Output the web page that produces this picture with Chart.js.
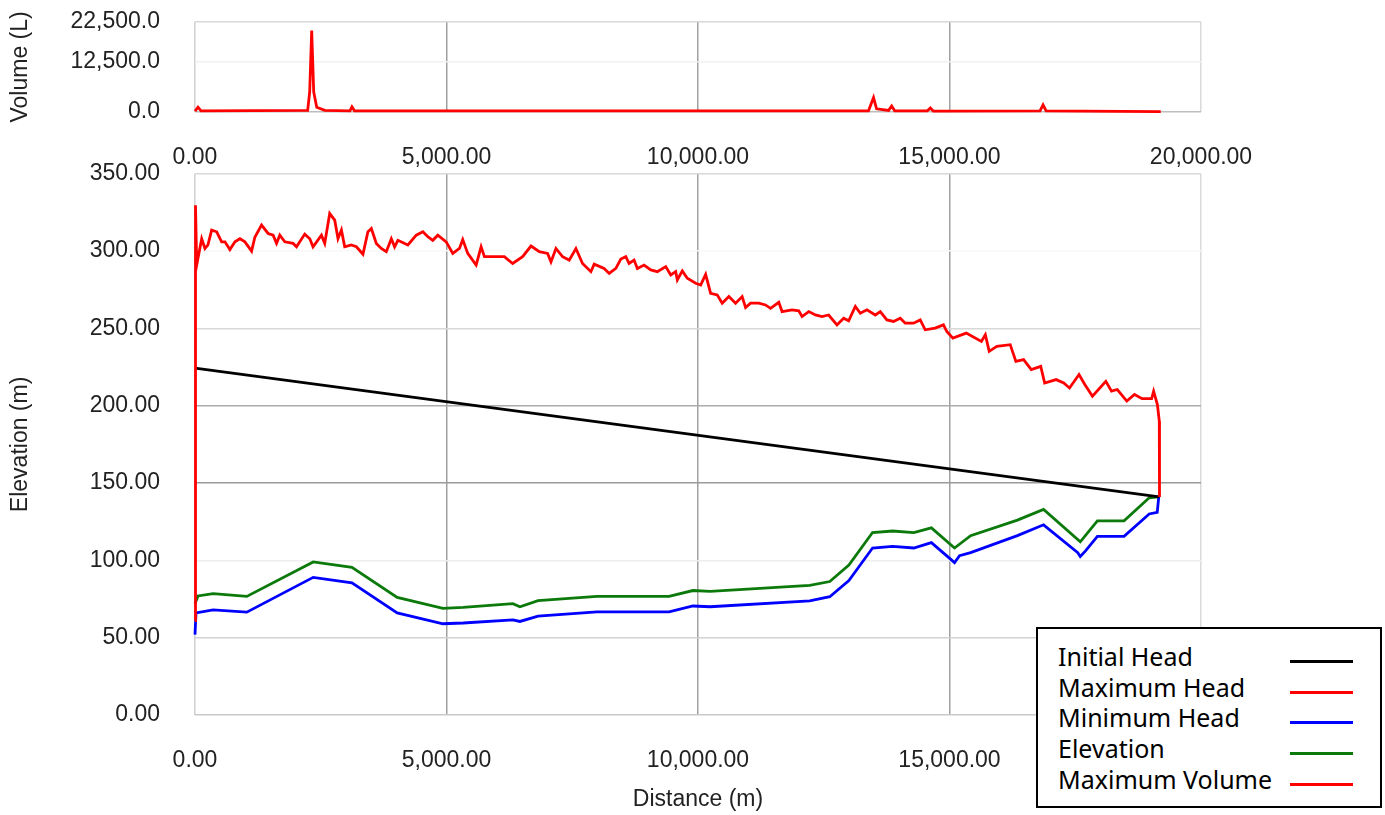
<!DOCTYPE html>
<html>
<head>
<meta charset="utf-8">
<script src="https://cdn.jsdelivr.net/npm/chart.js@4.4.1/dist/chart.umd.min.js"></script>
<style>
  html, body { margin: 0; padding: 0; background: #fff; }
  body { width: 1385px; height: 815px; position: relative; overflow: hidden; }
  #volWrap { position: absolute; left: 0; top: -27px; }
  #profWrap { position: absolute; left: 0; top: 125px; }
  #legend {
    position: absolute; left: 1036px; top: 627px; width: 346px; height: 181px;
    box-sizing: border-box; border: 2px solid #000; background: #fff;
    padding-top: 12px; font-family: "Noto Sans", sans-serif; font-size: 25px; color: #000;
  }
  .row { position: relative; height: 30.7px; line-height: 30.7px; padding-left: 20px; }
  .row span.swatch { position: absolute; left: 252px; top: 19px; width: 63px; height: 3px; }
</style>
</head>
<body>
<div id="volWrap"><canvas id="volumeChart" width="1385" height="207"></canvas></div>
<div id="profWrap"><canvas id="profileChart" width="1385" height="690"></canvas></div>
<div id="legend"></div>

<script>
// distances (m) and values
const initialHeadDist = [0, 19170];
const initialHeadVal = [224.3, 141];

const maxHeadDist = [0,10,34,133,198,258,331,431,530,595,
  694,794,893,992,1125,1190,1323,1454,1553,1621,
  1686,1786,1950,2018,2182,2282,2347,2514,2579,2678,
  2778,2843,2911,2976,3109,3208,3339,3438,3506,3605,
  3704,3803,3903,3968,4034,4232,4399,4530,4629,4728,
  4827,4994,5125,5258,5323,5422,5589,5688,5754,5952,
  6150,6315,6513,6680,6845,7010,7077,7176,7307,7440,
  7573,7704,7871,7936,8134,8234,8367,8466,8565,8630,
  8729,8795,8928,9061,9192,9359,9458,9557,9589,9688,
  9787,9954,10053,10152,10251,10382,10481,10614,10747,10878,
  10946,11045,11209,11342,11442,11606,11672,11870,12003,12069,
  12202,12335,12465,12598,12763,12896,12995,13128,13227,13358,
  13525,13624,13755,13888,14021,14120,14285,14418,14517,14715,
  14880,14946,15067,15333,15634,15713,15789,15941,16207,16320,
  16473,16626,16814,16892,17120,17271,17386,17575,17690,17842,
  18108,18221,18336,18525,18678,18828,19019,19058,19133,19171,
  19175];
const maxHeadVal = [61,329.7,291,308,301.7,304,313.6,312.5,306,306,
  301,306,308,306,300,309,316.8,311.4,310.3,305,
  310.3,306,305,302.8,311,308,302.8,310.3,305,324.3,
  320,308,313.6,302.8,304,302.8,298,312.5,314.6,305,
  301.7,299.6,308,302.8,307,304,310.3,312.5,309.3,307,
  310.3,306,298.5,301.7,307.5,298.5,291,302.8,296.4,296.4,
  296.4,292,296.4,303.3,299.6,298.5,293,301.7,296.4,294.2,
  301.7,292,286.7,291.6,288.8,285.6,288.8,294.9,296.4,292,
  294.2,288.8,291,287.8,286.7,290,284.6,286.7,281.3,287.2,
  282.4,279.2,278.1,285,272.7,271.7,266.3,270.6,266.3,270.6,
  263.5,266.3,266.3,265.2,263,266.9,260.9,262,261.4,257.7,
  260.9,258.7,257.7,258.7,252.3,256.6,254.9,264.2,259.8,262,
  258.7,260.9,255.5,254.5,256.6,253.4,253.4,255.5,249.1,250.2,
  252.3,248,243.7,247,241.6,245.9,235.2,238.4,239.5,228.7,
  229.8,223.4,225.5,214.7,216.9,214.7,211.5,220.2,213.7,206.2,
  215.8,209.4,210.5,203,207.3,204.6,204.6,209.4,200.8,190,
  141];

const elevationDist = [0,60,360,1030,2350,3120,4020,4930,5330,6320,6460,6820,7990,8850,9425,9900,10240,
  12220,12620,13000,13470,13870,14290,14640,15100,15420,16350,16870,17600,17940,18470,18970,19150];
const elevationVal = [72,77,78.5,76.7,99,95.5,76,69,69.6,72,70,74,76.7,76.7,76.7,80.5,80,
  83.8,86.3,97,118,119,118,121,108,116,126,133,112,125.6,125.6,140.5,141];

const minHeadDist = [0,20,360,1030,2350,3120,4020,4930,5330,6320,6460,6820,7990,8850,9425,9900,10240,
  12220,12620,13000,13470,13870,14290,14640,15050,15100,15200,15420,16350,16870,17550,17600,17700,
  17940,18470,18970,19130,19160];
const minHeadVal = [52,66,68,66.5,89,85.5,66,59,59.5,61.5,60.5,64,66.7,66.7,66.7,70.5,70,
  73.8,76.5,87,108,109,108,111.5,100,98.5,103,105,116,123,105,102.5,106,
  115.5,115.5,130,131,141];

const volumeDist = [0,60,120,2240,2280,2320,2360,2420,2580,3080,3120,3170,
  13390,13490,13550,13790,13850,13910,14560,14620,14680,16800,16860,16920,19200];
const volumeVal = [200,1200,300,400,5000,20300,5000,1200,400,300,1300,300,
  300,3600,800,400,1500,300,300,1000,200,300,1800,300,100];

const distanceTicks = [0, 5000, 10000, 15000, 20000];
const volumeTicks = [0, 12500, 22500];
const elevationTicks = [0, 50, 100, 150, 200, 250, 300, 350];

const legendLabels = ["Initial Head", "Maximum Head", "Minimum Head", "Elevation", "Maximum Volume"];
const legendColors = ["#000000", "#ff0000", "#0000ff", "#0b7a0b", "#ff0000"];

const pts = (xs, ys) => xs.map((x, i) => ({ x: x, y: ys[i] }));
const fmt = (v, d) => v.toLocaleString("en-US", { minimumFractionDigits: d, maximumFractionDigits: d });

const tickFont = { family: "'Liberation Sans', Arial, sans-serif", size: 23 };
const titleFont = { family: "'Liberation Sans', Arial, sans-serif", size: 23 };

const xGrid = { 0: "#cfcfcf", 5000: "#a0a0a0", 10000: "#a0a0a0", 15000: "#a0a0a0", 20000: "#dadada" };
const volGrid = { 0: "#bdbdbd", 12500: "#f0f0f0", 22500: "#d8d8d8" };
const elevGrid = { 0: "#cacaca", 50: "#d2d2d2", 100: "#eeeeee", 150: "#9a9a9a", 200: "#ababab",
  250: "#d8d8d8", 300: "#f8f8f8", 350: "#d8d8d8" };

function lineSet(label, data, color) {
  return { label, data, borderColor: color, backgroundColor: color, borderWidth: 2.8,
    showLine: true, pointRadius: 0, tension: 0, clip: false };
}

function xScale(height) {
  return {
    type: "linear", min: 0, max: 20000,
    afterBuildTicks: s => { s.ticks = distanceTicks.map(v => ({ value: v })); },
    afterFit: s => { s.height = height; },
    border: { display: false },
    grid: { drawTicks: false, lineWidth: 1.5, color: c => xGrid[c.tick.value] },
    ticks: { padding: 32, color: "#222", font: tickFont, maxRotation: 0, callback: v => fmt(v, 2) }
  };
}

const commonPlugins = { legend: { display: false }, tooltip: { enabled: false } };

new Chart(document.getElementById("volumeChart"), {
  type: "scatter",
  data: { datasets: [lineSet("Maximum Volume", pts(volumeDist, volumeVal), "#ff0000")] },
  options: {
    responsive: false, animation: false,
    layout: { padding: { top: 21, right: 184, left: 0, bottom: 0 } },
    plugins: commonPlugins,
    scales: {
      x: xScale(68),
      y: {
        min: 0, max: 22500,
        afterBuildTicks: s => { s.ticks = volumeTicks.map(v => ({ value: v })); },
        afterFit: s => { s.width = 195; },
        border: { display: false },
        grid: { drawTicks: false, lineWidth: 1.5, color: c => volGrid[c.tick.value] },
        ticks: { padding: 35, color: "#222", font: tickFont, callback: v => fmt(v, 1) },
        title: { display: true, text: "Volume (L)", color: "#222", font: titleFont, padding: { top: 7 } }
      }
    }
  }
});

new Chart(document.getElementById("profileChart"), {
  type: "scatter",
  data: {
    datasets: [
      lineSet("Maximum Head", pts(maxHeadDist, maxHeadVal), "#ff0000"),
      lineSet("Initial Head", pts(initialHeadDist, initialHeadVal), "#000000"),
      lineSet("Minimum Head", pts(minHeadDist, minHeadVal), "#0000ff"),
      lineSet("Elevation", pts(elevationDist, elevationVal), "#0b7a0b")
    ]
  },
  options: {
    responsive: false, animation: false,
    layout: { padding: { top: 22, right: 184, left: 0, bottom: 0 } },
    plugins: commonPlugins,
    scales: {
      x: Object.assign(xScale(100), {
        title: { display: true, text: "Distance (m)", color: "#222", font: titleFont, padding: { top: 0, bottom: 2 } }
      }),
      y: {
        min: 0, max: 350,
        afterBuildTicks: s => { s.ticks = elevationTicks.map(v => ({ value: v })); },
        afterFit: s => { s.width = 195; },
        border: { display: false },
        grid: { drawTicks: false, lineWidth: 1.5, color: c => elevGrid[c.tick.value] },
        ticks: { padding: 35, color: "#222", font: tickFont, callback: v => fmt(v, 2) },
        title: { display: true, text: "Elevation (m)", color: "#222", font: titleFont, padding: { top: 7 } }
      }
    }
  }
});

// legend box, lines on the right like the original
const legend = document.getElementById("legend");
legendLabels.forEach((name, i) => {
  const row = document.createElement("div");
  row.className = "row";
  row.textContent = name;
  const sw = document.createElement("span");
  sw.className = "swatch";
  sw.style.background = legendColors[i];
  row.appendChild(sw);
  legend.appendChild(row);
});
</script>
</body>
</html>
